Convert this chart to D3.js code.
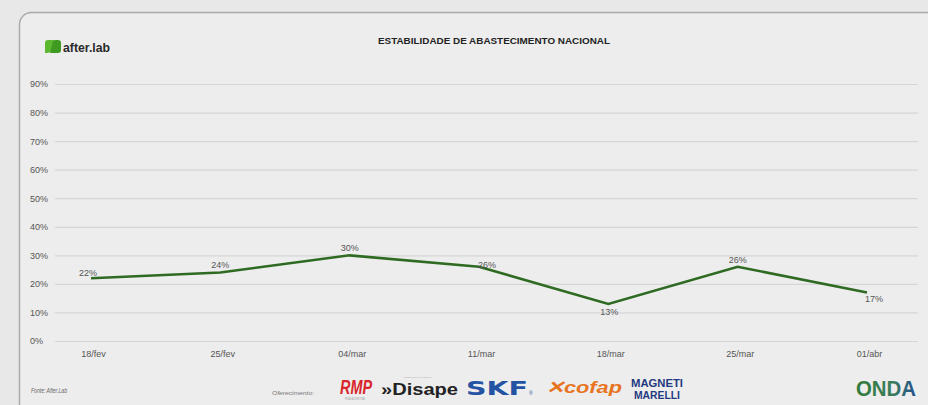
<!DOCTYPE html>
<html>
<head>
<meta charset="utf-8">
<script src="https://cdn.jsdelivr.net/npm/d3@7"></script>
<style>
  html, body { margin: 0; padding: 0; background: #e8e8e8; }
  svg { display: block; }
</style>
</head>
<body>
<svg id="chart" width="928" height="405"></svg>
<script>
// Weekly national supply stability (share of items available)
const weeks = ["18/fev", "25/fev", "04/mar", "11/mar", "18/mar", "25/mar", "01/abr"];
const stability = [22, 24, 30, 26, 13, 26, 17];
const yTicks = [0, 10, 20, 30, 40, 50, 60, 70, 80, 90];
const labelSide = ["aboveLeft", "above", "above", "aboveRight", "below", "above", "belowRight"];

const title = "ESTABILIDADE DE ABASTECIMENTO NACIONAL";
const source = "Fonte: After.Lab";

const svg = d3.select("#chart");
const W = 928, H = 405;
const FONT = "'Liberation Sans', Arial, sans-serif";

// card
svg.append("rect").attr("width", W).attr("height", H).attr("fill", "#e8e8e8");
svg.append("rect")
  .attr("x", 19.5).attr("y", 12.5).attr("width", 1000).attr("height", 500)
  .attr("rx", 12).attr("ry", 12)
  .attr("fill", "#ededed").attr("stroke", "#a9a9a9").attr("stroke-width", 1.4);

const x = d3.scalePoint().domain(weeks).range([91, 867]);
const y = d3.scaleLinear().domain([0, 90]).range([341, 84]);

// gridlines + y labels
const yAxis = d3.axisLeft(y).tickValues(yTicks).tickSize(-(918 - 55)).tickFormat(d => d + "%");
const gy = svg.append("g").attr("transform", "translate(55,0)").call(yAxis);
gy.select(".domain").remove();
gy.selectAll(".tick line").attr("stroke", "#d6d6d6").attr("stroke-width", 1.2);
gy.selectAll(".tick text")
  .attr("x", -25).attr("text-anchor", "start")
  .attr("fill", "#555").style("font-family", FONT).style("font-size", "9px");

// x labels
const xAxis = d3.axisBottom(x).tickSize(0).tickPadding(0);
const gx = svg.append("g").attr("transform", "translate(2,354)").call(xAxis);
gx.select(".domain").remove();
gx.selectAll(".tick text")
  .attr("dy", "0.32em")
  .attr("fill", "#555").style("font-family", FONT).style("font-size", "9px");

// line
const line = d3.line().x((d, i) => x(weeks[i])).y(d => y(d));
svg.append("path").datum(stability)
  .attr("d", line).attr("fill", "none")
  .attr("stroke", "#2f6a22").attr("stroke-width", 2.6)
  .attr("stroke-linejoin", "miter");

// value labels
const offs = {
  above: [0, -4], aboveLeft: [-3, -2], aboveRight: [8, 1],
  below: [1, 11], belowRight: [7, 10]
};
svg.append("g").selectAll("text").data(stability).join("text")
  .attr("x", (d, i) => x(weeks[i]) + offs[labelSide[i]][0])
  .attr("y", (d, i) => y(d) + offs[labelSide[i]][1])
  .attr("text-anchor", "middle")
  .attr("fill", "#555").style("font-family", FONT).style("font-size", "9px")
  .text(d => d + "%");

// title
svg.append("text").attr("x", 378).attr("y", 44)
  .attr("textLength", 232).attr("lengthAdjust", "spacingAndGlyphs")
  .attr("fill", "#222").style("font-family", FONT)
  .style("font-size", "9.5px").style("font-weight", "bold").text(title);

// after.lab brand mark
const brand = svg.append("g").attr("transform", "translate(45,47)");
brand.append("path").attr("d", "M0,-4 Q0,-7 3,-7 L9,-7 L6,4 Q5,6 2,6 L0,6 Z").attr("fill", "#5cb82e");
brand.append("path").attr("d", "M8,-6 Q9,-7 11,-7 L13,-7 Q16,-7 16,-4 L16,3 Q16,6 13,6 L5,6 Z").attr("fill", "#3f9a22");
brand.append("text").attr("x", 18).attr("y", 4.5)
  .attr("textLength", 47).attr("lengthAdjust", "spacingAndGlyphs")
  .attr("fill", "#2a2a2a").style("font-family", FONT)
  .style("font-size", "13px").style("font-weight", "bold")
  .text("after.lab");

// footer
svg.append("text").attr("x", 31).attr("y", 393)
  .attr("textLength", 36).attr("lengthAdjust", "spacingAndGlyphs")
  .attr("fill", "#666").style("font-family", FONT).style("font-size", "6.5px").style("font-style", "italic")
  .text(source);
svg.append("text").attr("x", 272).attr("y", 395)
  .attr("textLength", 42).attr("lengthAdjust", "spacingAndGlyphs")
  .attr("fill", "#777").style("font-family", FONT).style("font-size", "6px").style("font-style", "italic")
  .text("Oferecimento:");

// sponsor wordmarks
svg.append("text").attr("x", 340).attr("y", 394)
  .attr("textLength", 32).attr("lengthAdjust", "spacingAndGlyphs")
  .attr("fill", "#d9262c").style("font-family", FONT).style("font-size", "20px")
  .style("font-weight", "900").style("font-style", "italic")
  .text("RMP");
svg.append("text").attr("x", 345).attr("y", 400)
  .attr("textLength", 20).attr("lengthAdjust", "spacingAndGlyphs")
  .attr("fill", "#999").style("font-family", FONT).style("font-size", "3px").text("PEÇAS AUTOMOTIVAS");

svg.append("text").attr("x", 404).attr("y", 378)
  .attr("textLength", 28).attr("lengthAdjust", "spacingAndGlyphs")
  .attr("fill", "#aaa").style("font-family", FONT).style("font-size", "2.5px").text("DISTRIBUIDORA DE AUTOPEÇAS");
svg.append("text").attr("x", 381).attr("y", 395)
  .attr("textLength", 77).attr("lengthAdjust", "spacingAndGlyphs")
  .attr("fill", "#222").style("font-family", FONT).style("font-size", "16px")
  .style("font-weight", "bold").text("»Disape");

svg.append("text").attr("x", 466).attr("y", 395)
  .attr("textLength", 62).attr("lengthAdjust", "spacingAndGlyphs")
  .attr("fill", "#2553a3").style("font-family", "'DejaVu Sans', sans-serif").style("font-size", "20px")
  .style("font-weight", "bold").text("SKF");
svg.append("text").attr("x", 529).attr("y", 395)
  .attr("fill", "#2553a3").style("font-family", FONT).style("font-size", "5px").text("®");

svg.append("text").attr("x", 546).attr("y", 393)
  .attr("textLength", 76).attr("lengthAdjust", "spacingAndGlyphs")
  .attr("fill", "#e8741f").style("font-family", FONT).style("font-size", "17px")
  .style("font-weight", "900").style("font-style", "italic").text("✕cofap");

svg.append("text").attr("x", 631).attr("y", 386.5)
  .attr("textLength", 52).attr("lengthAdjust", "spacingAndGlyphs")
  .attr("fill", "#1f3a80").style("font-family", FONT).style("font-size", "10px")
  .style("font-weight", "bold").text("MAGNETI");
svg.append("text").attr("x", 634).attr("y", 398.5)
  .attr("textLength", 46).attr("lengthAdjust", "spacingAndGlyphs")
  .attr("fill", "#1f3a80").style("font-family", FONT).style("font-size", "10px")
  .style("font-weight", "bold").text("MARELLI");

const defs = svg.append("defs");
const grad = defs.append("linearGradient").attr("id", "ondaGrad").attr("x1", "0").attr("x2", "1");
grad.append("stop").attr("offset", "0").attr("stop-color", "#2f7a3a");
grad.append("stop").attr("offset", "0.6").attr("stop-color", "#3b7d5c");
grad.append("stop").attr("offset", "1").attr("stop-color", "#24508f");
svg.append("text").attr("x", 856).attr("y", 396)
  .attr("textLength", 60).attr("lengthAdjust", "spacingAndGlyphs")
  .attr("fill", "url(#ondaGrad)").style("font-family", FONT).style("font-size", "22px")
  .style("font-weight", "bold").text("ONDA");
</script>
</body>
</html>
